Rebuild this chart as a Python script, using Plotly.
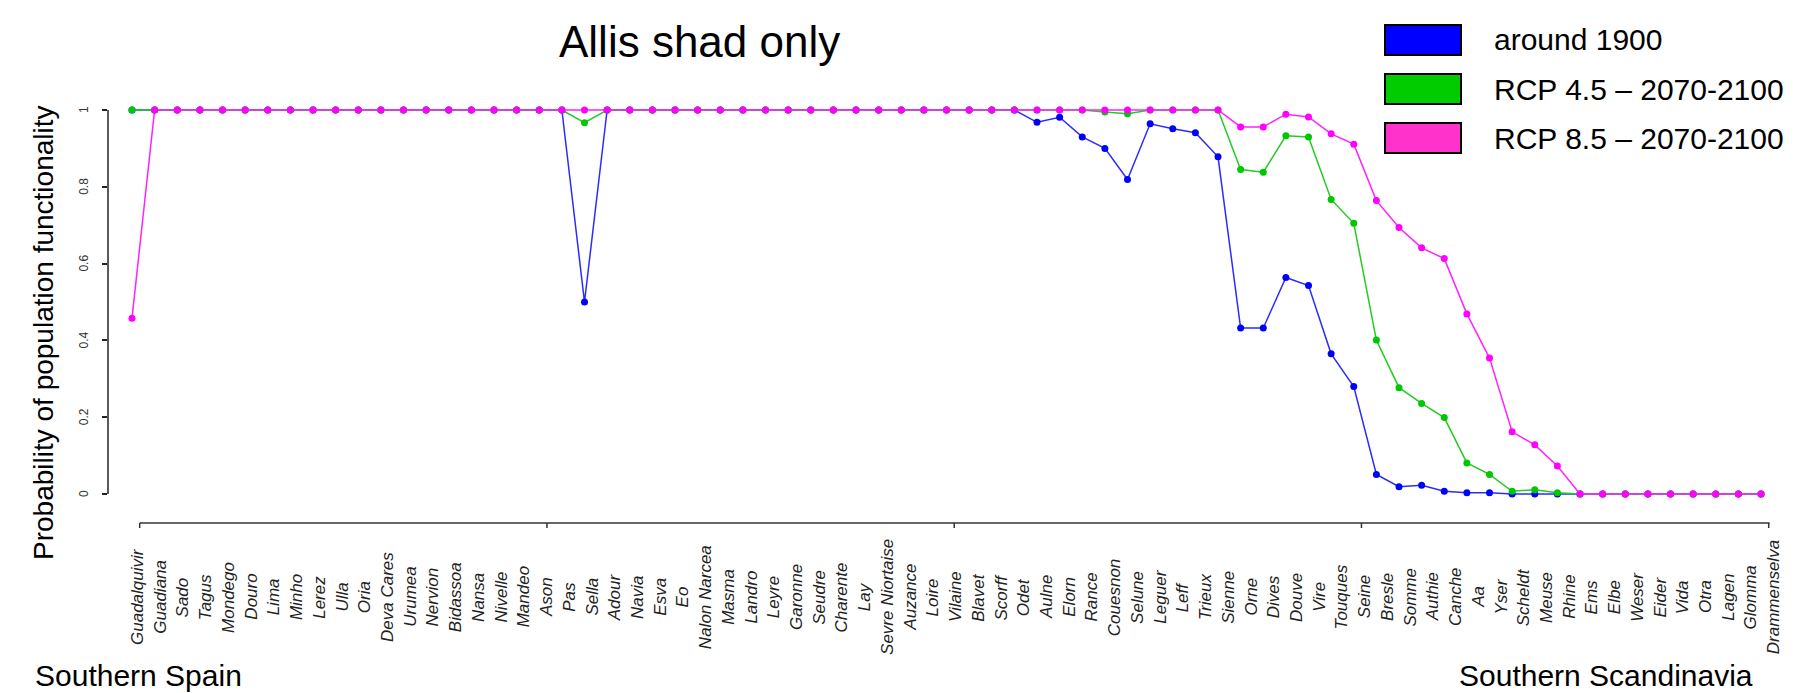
import plotly.graph_objects as go

rivers = ["Guadalquivir", "Guadiana", "Sado", "Tagus", "Mondego", "Douro", "Lima", "Minho", "Lerez", "Ulla",
          "Oria", "Deva Cares", "Urumea", "Nervion", "Bidassoa", "Nansa", "Nivelle", "Mandeo", "Ason", "Pas",
          "Sella", "Adour", "Navia", "Esva", "Eo", "Nalon Narcea", "Masma", "Landro", "Leyre", "Garonne",
          "Seudre", "Charente", "Lay", "Sevre Niortaise", "Auzance", "Loire", "Vilaine", "Blavet", "Scorff", "Odet",
          "Aulne", "Elorn", "Rance", "Couesnon", "Selune", "Leguer", "Leff", "Trieux", "Sienne", "Orne",
          "Dives", "Douve", "Vire", "Touques", "Seine", "Bresle", "Somme", "Authie", "Canche", "Aa",
          "Yser", "Scheldt", "Meuse", "Rhine", "Ems", "Elbe", "Weser", "Eider", "Vida", "Otra",
          "Lagen", "Glomma", "Drammenselva"]

around_1900 = [1, 1, 1, 1, 1, 1, 1, 1, 1, 1,
               1, 1, 1, 1, 1, 1, 1, 1, 1, 1,
               0.50, 1, 1, 1, 1, 1, 1, 1, 1, 1,
               1, 1, 1, 1, 1, 1, 1, 1, 1, 1,
               0.968, 0.981, 0.930, 0.900, 0.819, 0.964, 0.951, 0.941, 0.878, 0.432,
               0.432, 0.564, 0.543, 0.365, 0.280, 0.051, 0.019, 0.023, 0.007, 0.003,
               0.003, 0, 0, 0, 0, 0, 0, 0, 0, 0,
               0, 0, 0]

rcp45 = [1, 1, 1, 1, 1, 1, 1, 1, 1, 1,
         1, 1, 1, 1, 1, 1, 1, 1, 1, 1,
         0.967, 1, 1, 1, 1, 1, 1, 1, 1, 1,
         1, 1, 1, 1, 1, 1, 1, 1, 1, 1,
         1, 1, 1, 0.995, 0.990, 1, 1, 1, 1, 0.845,
         0.838, 0.933, 0.930, 0.767, 0.705, 0.401, 0.277, 0.236, 0.199, 0.081,
         0.051, 0.007, 0.011, 0.003, 0, 0, 0, 0, 0, 0,
         0, 0, 0]

rcp85 = [0.458, 1, 1, 1, 1, 1, 1, 1, 1, 1,
         1, 1, 1, 1, 1, 1, 1, 1, 1, 1,
         1, 1, 1, 1, 1, 1, 1, 1, 1, 1,
         1, 1, 1, 1, 1, 1, 1, 1, 1, 1,
         1, 1, 1, 1, 1, 1, 1, 1, 1, 0.956,
         0.956, 0.989, 0.982, 0.938, 0.911, 0.764, 0.694, 0.641, 0.613, 0.469,
         0.354, 0.162, 0.128, 0.073, 0, 0, 0, 0, 0, 0,
         0, 0, 0]

series_names = ["around 1900", "RCP 4.5 \u2013 2070-2100", "RCP 8.5 \u2013 2070-2100"]
line_colors = ["#2b2bff", "#22cc22", "#ff22ff"]
marker_colors = ["#0000ff", "#00c800", "#ff00ff"]
legend_fill = ["#0000ff", "#00cc00", "#ff33cc"]
y_tick_vals = [0, 0.2, 0.4, 0.6, 0.8, 1]
y_tick_text = ["0", "0.2", "0.4", "0.6", "0.8", "1"]

W, H = 1796, 693
ML, MR, MT, MB = 100, 21, 78, 171
PW = W - ML - MR
PH = H - MT - MB
FONT = "Liberation Sans, Arial, sans-serif"


def px(xp):
    return (xp - ML) / PW


def py(yp):
    return (H - MB - yp) / PH


fig = go.Figure()
for vals, name, lc, mc in zip([around_1900, rcp45, rcp85], series_names, line_colors, marker_colors):
    fig.add_trace(go.Scatter(x=rivers, y=vals, mode="lines+markers", name=name,
                             line=dict(color=lc, width=1.5),
                             marker=dict(color=mc, size=7),
                             cliponaxis=False, showlegend=False))

shapes = []
# y axis line (0..1)
shapes.append(dict(type="line", xref="paper", yref="y", x0=0, x1=0, y0=0, y1=1,
                   line=dict(color="#222", width=1.5)))
# x axis line
yl = py(515)
shapes.append(dict(type="line", xref="x", yref="paper", x0=0.34, x1=72.38, y0=yl, y1=yl,
                   line=dict(color="#333", width=1.5)))
for k in range(5):
    xt = 0.34 + 18 * k
    shapes.append(dict(type="line", xref="x", yref="paper", x0=xt, x1=xt, y0=yl, y1=py(520),
                       line=dict(color="#333", width=1.5)))

annotations = []
# y tick labels (rotated, parallel to the axis)
for v, t in zip(y_tick_vals, y_tick_text):
    annotations.append(dict(x=px(76), xref="paper", y=v, yref="y", text=t, showarrow=False,
                            textangle=-90, xanchor="center", yanchor="middle",
                            font=dict(family=FONT, size=12, color="#333")))
# category labels
for i, r in enumerate(rivers):
    annotations.append(dict(x=r, xref="x", y=py(589), yref="paper", text=r, showarrow=False,
                            textangle=-90, xanchor="center", yanchor="middle",
                            xshift=5 + 0.1 * i,
                            font=dict(family=FONT, size=17, color="#222", style="italic")))
# title
annotations.append(dict(x=px(691), y=py(34), xref="paper", yref="paper", text="Allis shad only",
                        showarrow=False, xanchor="center", yanchor="middle",
                        font=dict(family=FONT, size=44, color="black")))
# y axis title
annotations.append(dict(x=px(35), y=py(325), xref="paper", yref="paper",
                        text="Probability of population functionality", showarrow=False,
                        textangle=-90, xanchor="center", yanchor="middle",
                        font=dict(family=FONT, size=28, color="black")))
# region labels
annotations.append(dict(x=px(25), y=py(667), xref="paper", yref="paper", text="Southern Spain",
                        showarrow=False, xanchor="left", yanchor="middle",
                        font=dict(family=FONT, size=30, color="black")))
annotations.append(dict(x=px(1747), y=py(667), xref="paper", yref="paper", text="Southern Scandinavia",
                        showarrow=False, xanchor="right", yanchor="middle",
                        font=dict(family=FONT, size=30, color="black")))

# legend (boxes + text)
box_tops = [17, 66, 115]
for name, fill, top in zip(series_names, legend_fill, box_tops):
    shapes.append(dict(type="rect", xref="paper", yref="paper",
                       x0=px(1377), x1=px(1453), y0=py(top + 30), y1=py(top),
                       fillcolor=fill, line=dict(color="black", width=2)))
    annotations.append(dict(x=px(1484), y=py(top + 15), xref="paper", yref="paper", text=name,
                            showarrow=False, xanchor="left", yanchor="middle",
                            font=dict(family=FONT, size=30, color="black")))

fig.update_layout(
    width=W, height=H,
    margin=dict(l=ML, r=MR, t=MT, b=MB, pad=0),
    paper_bgcolor="white", plot_bgcolor="white",
    showlegend=False,
    shapes=shapes, annotations=annotations,
    xaxis=dict(type="category", categoryorder="array", categoryarray=rivers,
               range=[-1.0608, 72.972], showgrid=False, zeroline=False, showline=False,
               showticklabels=False, ticks=""),
    yaxis=dict(range=[-0.09375, 1.0625], showgrid=False, zeroline=False, showline=False,
               tickvals=y_tick_vals, ticks="outside", ticklen=5,
               tickwidth=1.5, tickcolor="#222", showticklabels=False),
)

fig.write_html("out.html")
